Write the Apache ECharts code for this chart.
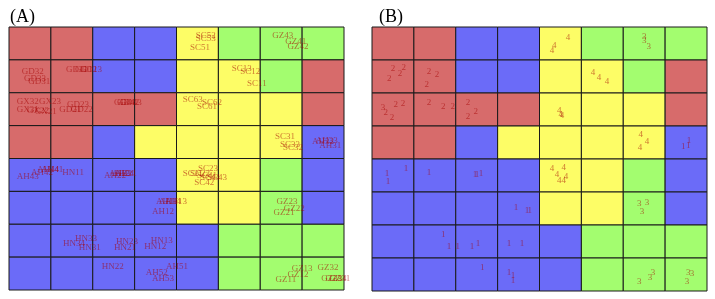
<!DOCTYPE html>
<html><head><meta charset="utf-8">
<script src="https://cdn.jsdelivr.net/npm/echarts@6/dist/echarts.min.js"></script>
<style>html,body{margin:0;padding:0;background:#fff}#c{width:715px;height:299px}</style>
</head><body><div id="c"></div>
<script>
// cluster id for each cell, rows from top
var clusterRows = [
  [2,2,1,1,4,3,3,3],
  [2,2,1,1,4,4,3,2],
  [2,2,2,2,4,4,4,2],
  [2,2,1,4,4,4,4,1],
  [1,1,1,1,4,4,3,1],
  [1,1,1,1,4,4,3,1],
  [1,1,1,1,1,3,3,3],
  [1,1,1,1,1,3,3,3]
];
var clusterColors = {1:'#6b6bf8', 2:'#d76b6b', 3:'#a3fd6f', 4:'#fdfd66'};
var panelTitles = ['(A)', '(B)'];

// panel A labels: [x, y, text] in grid units (y from top)
var labelsA = [
  [4.70,0.27,'SC52'],[4.70,0.36,'SC53'],[4.56,0.64,'SC51'],
  [6.54,0.27,'GZ43'],[6.85,0.46,'GZ41'],[6.90,0.61,'GZ42'],
  [0.57,1.37,'GD32'],[0.62,1.58,'GD33'],[0.72,1.67,'GD31'],
  [1.62,1.31,'GD11'],[1.84,1.31,'GD12'],[1.96,1.31,'GD13'],
  [5.56,1.28,'SC13'],[5.76,1.37,'SC12'],[5.92,1.73,'SC11'],
  [0.45,2.28,'GX32'],[0.98,2.28,'GX23'],[0.45,2.52,'GX31'],[0.69,2.55,'GX22'],[0.88,2.58,'GX21'],
  [1.65,2.37,'GD23'],[1.46,2.52,'GD21'],[1.74,2.52,'GD22'],
  [2.77,2.31,'GD41'],[2.84,2.31,'GD42'],[2.91,2.31,'GD43'],
  [4.39,2.22,'SC63'],[4.85,2.31,'SC62'],[4.73,2.43,'SC61'],
  [6.59,3.34,'SC31'],[6.71,3.59,'SC33'],[6.78,3.68,'SC32'],
  [7.50,3.50,'AH32'],[7.67,3.62,'AH31'],[7.59,3.47,'AH33'],
  [0.45,4.56,'AH43'],[0.79,4.44,'AH42'],[0.93,4.35,'AH44'],[1.03,4.35,'AH41'],
  [1.53,4.44,'HN11'],
  [2.53,4.53,'AH22'],[2.65,4.47,'AH23'],[2.72,4.47,'AH24'],[2.79,4.47,'AH21'],
  [4.75,4.32,'SC23'],[4.39,4.47,'SC21'],[4.56,4.47,'SC22'],[4.73,4.53,'SC41'],
  [4.80,4.59,'SC44'],[4.97,4.59,'SC43'],[4.66,4.74,'SC42'],
  [3.77,5.32,'AH11'],[3.84,5.32,'AH14'],[3.99,5.32,'AH13'],[3.68,5.62,'AH12'],
  [6.64,5.32,'GZ23'],[6.81,5.53,'GZ22'],[6.57,5.65,'GZ21'],
  [1.84,6.44,'HN33'],[1.55,6.60,'HN34'],[1.93,6.72,'HN31'],
  [2.82,6.53,'HN23'],[2.77,6.72,'HN21'],
  [3.65,6.50,'HN13'],[3.49,6.69,'HN12'],
  [2.48,7.29,'HN22'],
  [4.01,7.29,'AH51'],[3.53,7.48,'AH52'],[3.68,7.66,'AH53'],
  [7.00,7.36,'GZ13'],[6.90,7.54,'GZ12'],[6.61,7.69,'GZ11'],
  [7.62,7.33,'GZ32'],[7.71,7.66,'GZ33'],[7.81,7.66,'GZ34'],[7.90,7.66,'GZ31']
];

// panel B labels: [x, y, text]
var labelsB = [
  [4.68,0.33,'4'],[4.35,0.55,'4'],[4.30,0.73,'4'],
  [6.50,0.30,'3'],[6.50,0.42,'3'],[6.61,0.61,'3'],
  [0.50,1.27,'2'],[0.76,1.24,'2'],[0.67,1.42,'2'],[0.41,1.58,'2'],
  [1.36,1.36,'2'],[1.55,1.45,'2'],[1.31,1.76,'2'],
  [5.28,1.39,'4'],[5.42,1.52,'4'],[5.61,1.67,'4'],
  [0.26,2.45,'3'],[0.33,2.61,'2'],[0.57,2.36,'2'],[0.74,2.33,'2'],[0.48,2.76,'2'],
  [1.36,2.30,'2'],[1.70,2.42,'2'],[1.93,2.42,'2'],
  [2.29,2.30,'2'],[2.29,2.73,'2'],[2.48,2.55,'2'],
  [4.47,2.52,'4'],[4.51,2.67,'4'],[4.54,2.70,'4'],
  [6.42,3.27,'4'],[6.57,3.48,'4'],[6.40,3.67,'4'],
  [7.57,3.45,'1'],[7.43,3.64,'1'],[7.55,3.60,'1'],
  [0.36,4.45,'1'],[0.38,4.70,'1'],[0.81,4.30,'1'],
  [1.36,4.42,'1'],
  [2.46,4.48,'1'],[2.51,4.48,'1'],[2.60,4.45,'1'],
  [4.30,4.30,'4'],[4.58,4.27,'4'],[4.42,4.48,'4'],[4.63,4.52,'4'],[4.47,4.67,'4'],[4.58,4.67,'4'],
  [3.44,5.48,'1'],[3.70,5.58,'1'],[3.77,5.58,'1'],
  [6.38,5.36,'3'],[6.57,5.33,'3'],[6.45,5.61,'3'],
  [1.70,6.30,'1'],[1.84,6.67,'1'],[2.05,6.67,'1'],[2.39,6.67,'1'],[2.53,6.55,'1'],[3.27,6.58,'1'],[3.58,6.58,'1'],
  [2.63,7.30,'1'],[3.27,7.45,'1'],[3.37,7.52,'1'],[3.37,7.70,'1'],
  [6.38,7.73,'3'],[6.64,7.61,'3'],[6.71,7.45,'3'],
  [7.55,7.45,'3'],[7.64,7.48,'3'],[7.52,7.73,'3']
];

var cells = [];
clusterRows.forEach(function(row, r){ row.forEach(function(c, k){ cells.push([k, r, c]); }); });

var textColor = 'rgba(165,0,0,0.68)';
function cellSeries(idx){
  return {
    type:'custom', xAxisIndex:idx, yAxisIndex:idx, data:cells, silent:true,
    renderItem:function(params, api){
      var x = api.value(0), y = api.value(1), c = api.value(2);
      var p0 = api.coord([x, y]), p1 = api.coord([x+1, y+1]);
      return {type:'rect', shape:{x:p0[0], y:p0[1], width:p1[0]-p0[0], height:p1[1]-p0[1]},
        style:{fill:clusterColors[c], stroke:'#1a1a1a', lineWidth:1}};
    }
  };
}
function labelSeries(idx, data){
  return {
    type:'scatter', xAxisIndex:idx, yAxisIndex:idx, symbolSize:0, silent:true,
    data:data.map(function(d){ return {value:[d[0], d[1]], name:d[2]}; }),
    label:{show:true, position:'inside', formatter:'{b}', color:textColor,
      fontFamily:'Liberation Serif', fontSize:9},
    labelLayout:{hideOverlap:false}
  };
}
function ax(idx, isY){
  return {type:'value', gridIndex:idx, min:0, max:8, inverse:!!isY, show:false};
}
var chart = echarts.init(document.getElementById('c'), null, {renderer:'canvas'});
chart.setOption({
  animation:false,
  title:[
    {text:panelTitles[0], left:5, top:3, textStyle:{fontFamily:'Liberation Serif', fontWeight:'normal', fontSize:18, color:'#000'}},
    {text:panelTitles[1], left:374, top:3, textStyle:{fontFamily:'Liberation Serif', fontWeight:'normal', fontSize:18, color:'#000'}}
  ],
  grid:[
    {left:9, top:27, width:335, height:263},
    {left:372, top:27, width:335, height:264}
  ],
  xAxis:[ax(0,false), ax(1,false)],
  yAxis:[ax(0,true), ax(1,true)],
  series:[cellSeries(0), cellSeries(1), labelSeries(0, labelsA), labelSeries(1, labelsB)]
});
</script>
</body></html>
